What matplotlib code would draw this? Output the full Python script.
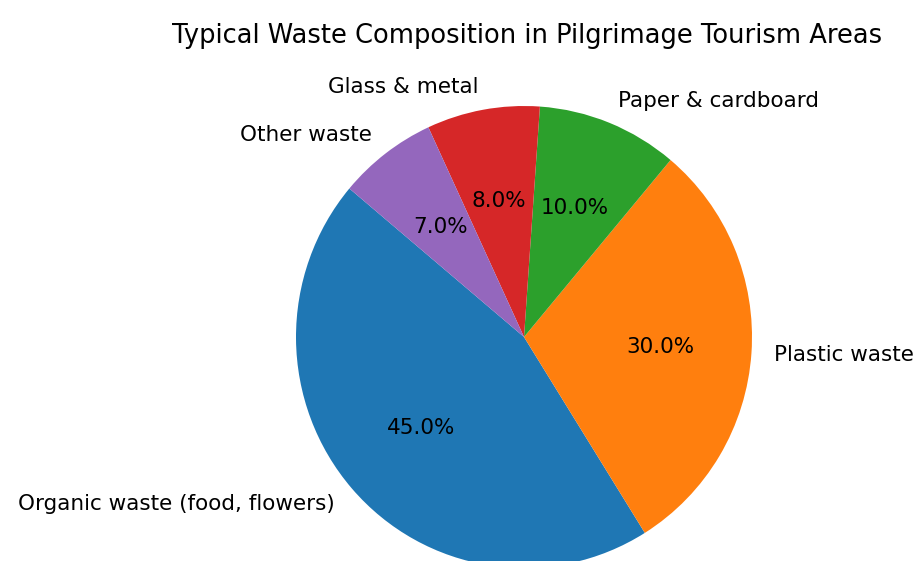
import matplotlib
matplotlib.use("Agg")
import matplotlib.pyplot as plt

labels = ["Organic waste (food, flowers)", "Plastic waste", "Paper & cardboard",
          "Glass & metal", "Other waste"]
shares = [45, 30, 10, 8, 7]

fig = plt.figure(figsize=(9.2, 5.61), dpi=100)
ax = fig.add_axes([0, 0, 1, 1])

# pie centre around (524, 337) px, radius ~228 px (a bit taller than wide)
cx, cy, rx, ry = 524, 337, 228, 231
ax.pie(shares, labels=labels, autopct="%1.1f%%", startangle=140,
       textprops={"fontsize": 15.5})
ax.set_aspect("auto")
ax.set_xlim(-cx / rx, (920 - cx) / rx)
ax.set_ylim(-(561 - cy) / ry, cy / ry)
ax.axis("off")

fig.text(527 / 920, 1 - 36 / 561, "Typical Waste Composition in Pilgrimage Tourism Areas",
         ha="center", va="center", fontsize=18.5)

fig.savefig("out.png", dpi=100)
